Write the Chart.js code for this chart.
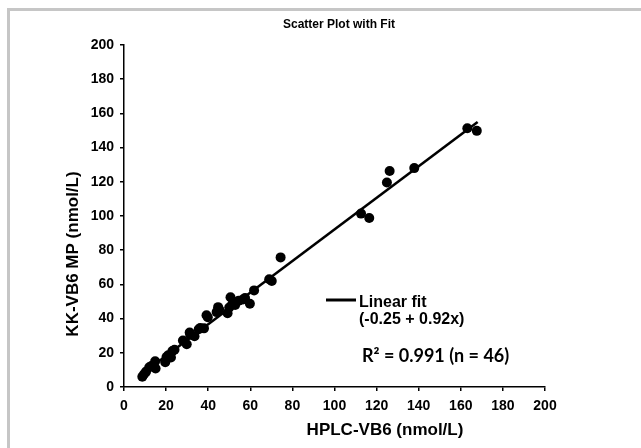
<!DOCTYPE html>
<html>
<head>
<meta charset="utf-8">
<script src="https://cdn.jsdelivr.net/npm/chart.js@4.4.0/dist/chart.umd.min.js"></script>
<style>
  html, body { margin: 0; padding: 0; background: #fff; }
  #wrap { position: relative; width: 641px; height: 448px; overflow: hidden; }
  #frame {
    position: absolute; left: 7px; top: 8px; width: 700px; height: 500px;
    border-left: 3px solid #c6c6c6; border-top: 3px solid #c6c6c6;
  }
  #chart { position: absolute; left: 0; top: 0; }
</style>
</head>
<body>
<div id="wrap">
  <div id="frame"></div>
  <canvas id="chart" width="641" height="448"></canvas>
</div>
<script>
// -------------------------
// Data
// -------------------------
const hplcVB6 = [
  8.7, 9.5, 10.5, 12.0, 13.0, 14.8, 15.0, 19.6, 20.2, 21.0,
  22.3, 23.0, 24.0, 28.0, 29.8, 31.2, 31.5, 33.5, 35.5, 36.2,
  38.0, 39.2, 39.8, 44.0, 44.7, 45.2, 49.2, 50.0, 50.6, 51.5,
  52.8, 54.5, 56.5, 57.5, 59.8, 61.8, 69.0, 70.2, 74.4, 112.6,
  116.5, 124.9, 126.2, 137.9, 163.1, 167.6
];
const kkVB6 = [
  6.0, 7.5, 9.0, 11.5, 12.3, 15.0, 10.8, 14.5, 17.5, 18.5,
  17.3, 21.0, 21.8, 27.2, 25.0, 31.8, 30.5, 29.7, 33.8, 34.5,
  34.3, 42.0, 40.8, 43.8, 46.7, 45.5, 43.2, 46.5, 52.5, 48.5,
  48.0, 50.5, 51.2, 52.0, 48.7, 56.5, 63.0, 62.0, 75.8, 101.4,
  98.8, 119.6, 126.3, 128.0, 151.3, 149.8
];

// fitted line endpoints
const fitX = [8.5, 168];
const fitY = [7.6, 155];

const AXIS_MIN = 0;
const AXIS_MAX = 200;
const AXIS_STEP = 20;

const TITLE = "Scatter Plot with Fit";
const X_TITLE = "HPLC-VB6 (nmol/L)";
const Y_TITLE = "KK-VB6 MP (nmol/L)";
const FIT_LABEL = ["Linear fit", "(-0.25 + 0.92x)"];
const STATS_LABEL = "R\u00B2 = 0.991 (n = 46)";

// -------------------------
// Helpers
// -------------------------
const ARIAL = '"Liberation Sans", Arial, sans-serif';

function axisOpts(isY) {
  return {
    type: "linear",
    min: AXIS_MIN,
    max: AXIS_MAX,
    ticks: {
      stepSize: AXIS_STEP,
      color: "#000",
      padding: isY ? 6 : 7,
      font: { family: ARIAL, size: 14, weight: "bold" }
    },
    grid: {
      display: true,
      drawOnChartArea: false,
      drawTicks: true,
      tickLength: 4,
      color: "#000",
      lineWidth: 1.5
    },
    border: { display: true, color: "#000", width: 1.5 },
    afterFit: s => {
      if (isY) s.width = 124;
      else s.height = 61;
    }
  };
}

// texts that sit outside the library's own layout
const labelsPlugin = {
  id: "labels",
  afterDraw(chart) {
    const ctx = chart.ctx;
    ctx.save();
    ctx.fillStyle = "#000";
    ctx.strokeStyle = "#000";

    ctx.textAlign = "center";
    ctx.textBaseline = "middle";
    ctx.font = `bold 12px ${ARIAL}`;
    ctx.fillText(TITLE, 339, 25);

    ctx.font = `bold 17px ${ARIAL}`;
    ctx.fillText(X_TITLE, 385, 430);

    ctx.save();
    ctx.translate(73, 254);
    ctx.rotate(-Math.PI / 2);
    ctx.fillText(Y_TITLE, 0, 0);
    ctx.restore();

    // legend entry for the fit
    ctx.lineWidth = 3;
    ctx.beginPath();
    ctx.moveTo(326, 300);
    ctx.lineTo(356, 300);
    ctx.stroke();

    ctx.textAlign = "left";
    ctx.textBaseline = "alphabetic";
    ctx.font = `bold 16px ${ARIAL}`;
    ctx.fillText(FIT_LABEL[0], 359, 307);
    ctx.fillText(FIT_LABEL[1], 359, 324);

    ctx.font = 'bold 18px Lato, "Open Sans", sans-serif';
    ctx.fillText(STATS_LABEL, 362, 362);
    ctx.restore();
  }
};

// -------------------------
// Chart
// -------------------------
new Chart(document.getElementById("chart"), {
  type: "scatter",
  data: {
    datasets: [
      {
        label: "Samples",
        data: hplcVB6.map((x, i) => ({ x, y: kkVB6[i] })),
        backgroundColor: "#000",
        borderWidth: 0,
        pointRadius: 5
      },
      {
        type: "line",
        label: "Linear fit",
        data: fitX.map((x, i) => ({ x, y: fitY[i] })),
        borderColor: "#000",
        borderWidth: 2.6,
        pointRadius: 0,
        fill: false
      }
    ]
  },
  options: {
    responsive: false,
    animation: false,
    layout: { padding: { left: 0, top: 45, right: 96, bottom: 0 } },
    plugins: {
      legend: { display: false },
      tooltip: { enabled: false },
      title: { display: false }
    },
    scales: {
      x: axisOpts(false),
      y: axisOpts(true)
    }
  },
  plugins: [labelsPlugin]
});
</script>
</body>
</html>
